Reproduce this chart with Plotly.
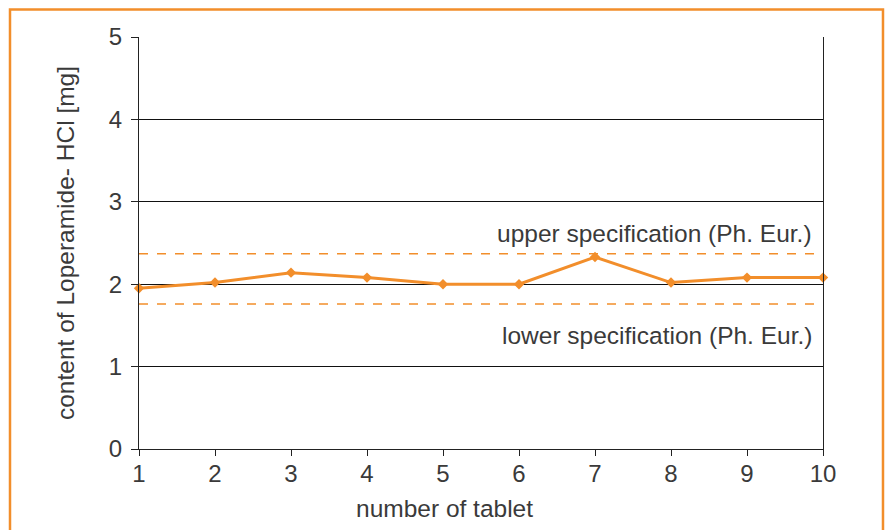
import plotly.graph_objects as go

tablets = [1, 2, 3, 4, 5, 6, 7, 8, 9, 10]
content_mg = [1.95, 2.02, 2.14, 2.08, 2.00, 2.00, 2.33, 2.02, 2.08, 2.08]
upper_spec = 2.37
lower_spec = 1.76
upper_label = "upper specification (Ph. Eur.)"
lower_label = "lower specification (Ph. Eur.)"
x_title = "number of tablet"
y_title = "content of Loperamide- HCl [mg]"

ORANGE = "#f28e2b"
FONT = "Liberation Sans"
TXT = "#3a3a3a"
FS_TICK = 24
FS_TXT = 24.5

fig = go.Figure()
fig.add_trace(go.Scatter(
    x=tablets, y=content_mg, mode="lines+markers",
    line=dict(color=ORANGE, width=3),
    marker=dict(symbol="diamond", size=8, color=ORANGE),
    showlegend=False, cliponaxis=False,
))

for v in (upper_spec, lower_spec):
    fig.add_shape(type="line", xref="x", yref="y", x0=tablets[0], x1=tablets[-1],
                  y0=v, y1=v, line=dict(color=ORANGE, width=1.5, dash="dash"), layer="below")

fig.add_annotation(x=0.987, xref="paper", y=upper_spec, yref="y", yshift=20,
                   text=upper_label, showarrow=False, xanchor="right", yanchor="middle",
                   font=dict(size=FS_TXT, family=FONT, color=TXT))
fig.add_annotation(x=0.987, xref="paper", y=lower_spec, yref="y", yshift=-32,
                   text=lower_label, showarrow=False, xanchor="right", yanchor="middle",
                   font=dict(size=FS_TXT, family=FONT, color=TXT))
fig.add_annotation(x=0.447, xref="paper", y=-0.145, yref="paper",
                   text=x_title, showarrow=False, xanchor="center", yanchor="middle",
                   font=dict(size=FS_TXT, family=FONT, color=TXT))

# outer orange frame
fig.add_shape(type="rect", xref="paper", yref="paper",
              x0=-0.1886, x1=1.0877, y0=-0.25, y1=1.0667,
              line=dict(color=ORANGE, width=2.5), fillcolor="rgba(0,0,0,0)")

fig.update_xaxes(range=[1, 10], tickvals=tablets, showgrid=False, zeroline=False,
                 showline=True, linecolor="#222", linewidth=1.2,
                 ticks="outside", ticklen=6, tickcolor="#222",
                 ticklabelstandoff=-3,
                 tickfont=dict(size=FS_TICK, family=FONT, color=TXT))
fig.update_yaxes(range=[0, 5], tickvals=[0, 1, 2, 3, 4, 5], showgrid=True,
                 gridcolor="#111", gridwidth=1.2, zeroline=False,
                 showline=True, linecolor="#222", linewidth=1.2, mirror=True,
                 ticks="outside", ticklen=7, tickcolor="#222",
                 ticklabelstandoff=4,
                 tickfont=dict(size=FS_TICK, family=FONT, color=TXT),
                 title=dict(text=y_title, standoff=27,
                            font=dict(size=FS_TXT, family=FONT, color=TXT)))

fig.update_layout(width=889, height=530, plot_bgcolor="white", paper_bgcolor="white",
                  margin=dict(l=139, r=66, t=37, b=81))

fig.write_html("out.html", config={"displayModeBar": False},
               post_script="document.body.style.margin='0';")
